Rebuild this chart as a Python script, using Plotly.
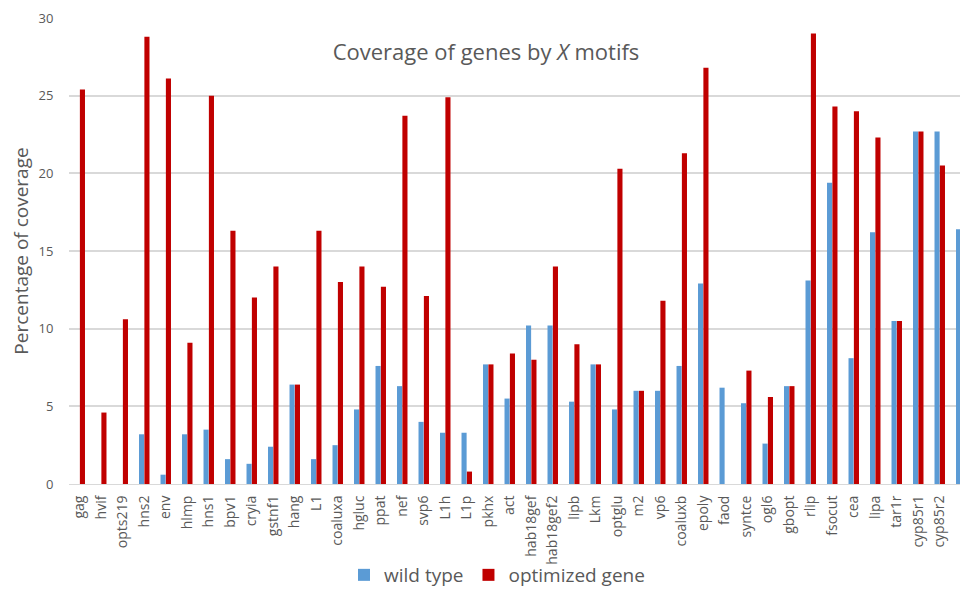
import plotly.graph_objects as go

genes = [
    "gag", "hvif", "opts219", "hns2", "env", "hlmp", "hns1", "bpv1", "cryia",
    "gstnf1", "hang", "L1", "coaluxa", "hgluc", "ppat", "nef", "svp6", "L1h",
    "L1p", "pkhx", "act", "hab18gef", "hab18gef2", "lipb", "Lkm", "optglu",
    "m2", "vp6", "coaluxb", "epoly", "faod", "syntce", "ogl6", "gbopt", "rlip",
    "fsocut", "cea", "lipa", "tar1r", "cyp85r1", "cyp85r2", "tlx",
]

wild_type = [
    0, 0, 0, 3.2, 0.6, 3.2, 3.5, 1.6, 1.3,
    2.4, 6.4, 1.6, 2.5, 4.8, 7.6, 6.3, 4.0, 3.3,
    3.3, 7.7, 5.5, 10.2, 10.2, 5.3, 7.7, 4.8,
    6.0, 6.0, 7.6, 12.9, 6.2, 5.2, 2.6, 6.3, 13.1,
    19.4, 8.1, 16.2, 10.5, 22.7, 22.7, 16.4,
]

optimized = [
    25.4, 4.6, 10.6, 28.8, 26.1, 9.1, 25.0, 16.3, 12.0,
    14.0, 6.4, 16.3, 13.0, 14.0, 12.7, 23.7, 12.1, 24.9,
    0.8, 7.7, 8.4, 8.0, 14.0, 9.0, 7.7, 20.3,
    6.0, 11.8, 21.3, 26.8, 0, 7.3, 5.6, 6.3, 29.0,
    24.3, 24.0, 22.3, 10.5, 22.7, 20.5, None,
]

y_ticks = [0, 5, 10, 15, 20, 25, 30]

FONT = "Open Sans, Noto Sans, sans-serif"
TEXT_GREY = "#595959"
GRID = "#D9D9D9"

fig = go.Figure()
fig.add_trace(go.Bar(
    name="wild type", x=genes, y=wild_type,
    marker=dict(color="#5B9BD5", line=dict(width=0)),
))
fig.add_trace(go.Bar(
    name="optimized gene", x=genes, y=optimized,
    marker=dict(color="#C00000", line=dict(width=0)),
))

fig.update_layout(
    width=960, height=589,
    margin=dict(l=69, r=0, t=18, b=105, autoexpand=False),
    paper_bgcolor="white", plot_bgcolor="white",
    barmode="group", bargap=0.5, bargroupgap=0.05,
    font=dict(family=FONT, color=TEXT_GREY),
    title=dict(
        text="Coverage of genes by <i>X</i> motifs",
        x=486 / 960, xanchor="center",
        y=1 - 52 / 589, yanchor="middle",
        font=dict(family=FONT, size=22, color=TEXT_GREY),
    ),
    showlegend=True,
    legend=dict(
        orientation="h",
        xref="container", x=497 / 960, xanchor="center",
        yref="container", y=1 - 575 / 589, yanchor="middle",
        font=dict(family=FONT, size=19, color=TEXT_GREY),
        bgcolor="rgba(0,0,0,0)",
        borderwidth=0, tracegroupgap=0,
    ),
)

fig.update_xaxes(
    type="category",
    range=[-0.5, -0.5 + (960 - 69) / 21.5],
    tickangle=-90,
    tickfont=dict(family=FONT, size=14, color=TEXT_GREY),
    showgrid=False,
    showline=True, linecolor=GRID, linewidth=1,
    ticks="outside", ticklen=5, tickcolor="rgba(0,0,0,0)",
)

fig.update_yaxes(
    range=[0, 30],
    tickvals=y_ticks,
    tickfont=dict(family=FONT, size=13, color=TEXT_GREY),
    showgrid=True, gridcolor=GRID, gridwidth=1.5,
    zeroline=False, showline=False,
    ticks="outside", ticklen=12, tickcolor="rgba(0,0,0,0)",
    title=dict(text="Percentage of coverage",
               font=dict(family=FONT, size=19, color=TEXT_GREY),
               standoff=4),
)

fig.write_html("out.html")
